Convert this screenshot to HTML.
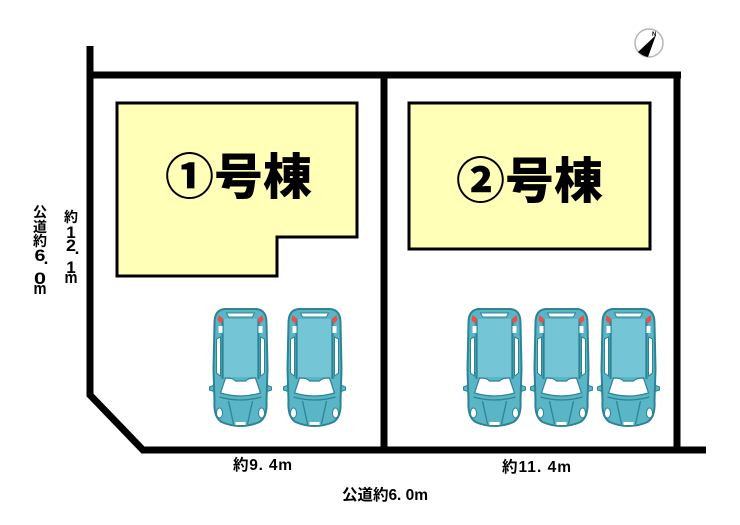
<!DOCTYPE html>
<html><head><meta charset="utf-8"><style>
html,body{margin:0;padding:0;background:#fff;width:740px;height:525px;overflow:hidden}
svg{display:block}
text{font-family:"Liberation Sans","Noto Sans CJK JP",sans-serif;font-weight:bold;fill:#000}
.t{font-size:15.5px}
.v{font-size:14px;text-anchor:middle}
.d{font-size:17px;text-anchor:middle}
.b{font-family:"Noto Sans CJK JP","Liberation Sans",sans-serif;font-weight:900;font-size:49px;text-anchor:middle}
</style></head><body>
<svg width="740" height="525" viewBox="0 0 740 525" xmlns="http://www.w3.org/2000/svg">
<defs>
<g id="car">
<path d="M-26 76 L-31 78 L-31 81 L-25 83 Z M26 76 L31 78 L31 81 L25 83 Z" fill="#5ab5c6" stroke="#2c8494" stroke-width="1"/>
<path d="M-16 0 H16 Q26 1 26 14 L27 60 L26 92 Q27 108 19 113 Q10 117 0 117 Q-10 117 -19 113 Q-27 108 -26 92 L-27 60 L-26 14 Q-26 1 -16 0 Z" fill="#5ab5c6" stroke="#2c8494" stroke-width="2"/>
<path d="M-18 10 L-18 70 M18 10 L18 70" fill="none" stroke="#2c8494" stroke-width="2"/>
<rect x="-16.500" y="10" width="33" height="58" fill="#74c6d6"/>
<path d="M-14 4 H14 L12 8 H-12 Z" fill="#fff" stroke="#2c8494" stroke-width="1"/>
<path d="M-22 6 L-17 10 L-19 15 L-23 11 Z" fill="#e8504c"/>
<path d="M22 6 L17 10 L19 15 L23 11 Z" fill="#e8504c"/>
<path d="M-24 30 L-20 28 L-20 67 L-24 64 Z M24 30 L20 28 L20 67 L24 64 Z" fill="#fff" stroke="#2c8494" stroke-width="1"/>
<path d="M-22 17 h4 v7 h-4 Z M22 17 h-4 v7 h4 Z" fill="#fff"/>
<path d="M-15 69 Q-7 69 -5 72 H5 Q7 69 15 69 L20 84 Q0 90 -20 84 Z" fill="#fff" stroke="#2c8494" stroke-width="1.2"/>
<path d="M-21 88 Q0 94 21 88 M-12 92 L-7 115 M12 92 L7 115" fill="none" stroke="#2c8494" stroke-width="1.300"/>
<ellipse cx="-21" cy="104" rx="3" ry="5" fill="#fff" stroke="#2c8494"/>
<ellipse cx="21" cy="104" rx="3" ry="5" fill="#fff" stroke="#2c8494"/>
<rect x="-5" y="113" width="10" height="3" fill="#fff"/>
</g>
</defs>

<path d="M117 103 H357 V237 H277 V276 H117 Z" fill="#ffffb8" stroke="#000" stroke-width="3"/>
<path d="M409 103 H650 V249 H409 Z" fill="#ffffb8" stroke="#000" stroke-width="3"/>

<text class="b" x="238.500" y="194">①号棟</text>
<text class="b" x="529.500" y="198">②号棟</text>

<g fill="none" stroke="#000" stroke-width="7">
<path d="M90 46 V395 L143 450 H706" stroke-linejoin="miter"/>
<path d="M87 75 H681"/>
<path d="M384 75 V450"/>
<path d="M677 75 V450"/>
</g>

<use href="#car" x="240.500" y="309"/>
<use href="#car" x="314.500" y="309"/>
<use href="#car" x="494.500" y="309"/>
<use href="#car" x="561.500" y="309"/>
<use href="#car" x="628.500" y="309"/>

<circle cx="649" cy="43" r="14" fill="#fff" stroke="#b5b5b5" stroke-width="1.5"/>
<path d="M656 35 L638 52 Q643 56 648 57 Z" fill="#000"/>
<text x="652" y="36" font-size="6">N</text>

<text class="t" x="233" y="470" textLength="59">約9. 4m</text>
<text class="t" x="502" y="472" textLength="69">約11. 4m</text>
<text class="t" x="342" y="500" textLength="86">公道約6. 0m</text>

<g>
<text class="v" x="40" y="217">公</text>
<text class="v" x="40" y="232">道</text>
<text class="v" x="40" y="246">約</text>
<text class="d" x="40" y="261" textLength="11" lengthAdjust="spacingAndGlyphs">6</text>
<text class="d" x="46" y="264">.</text>
<text class="d" x="40" y="284" textLength="12" lengthAdjust="spacingAndGlyphs">0</text>
<text class="d" x="40" y="294" textLength="13" lengthAdjust="spacingAndGlyphs">m</text>
<text class="v" x="71" y="222">約</text>
<text class="d" x="71" y="238">1</text>
<text class="d" x="71" y="251" textLength="10" lengthAdjust="spacingAndGlyphs">2</text>
<text class="d" x="77" y="254">.</text>
<text class="d" x="71" y="273">1</text>
<text class="d" x="71" y="283" textLength="13" lengthAdjust="spacingAndGlyphs">m</text>
</g>
</svg>
</body></html>
